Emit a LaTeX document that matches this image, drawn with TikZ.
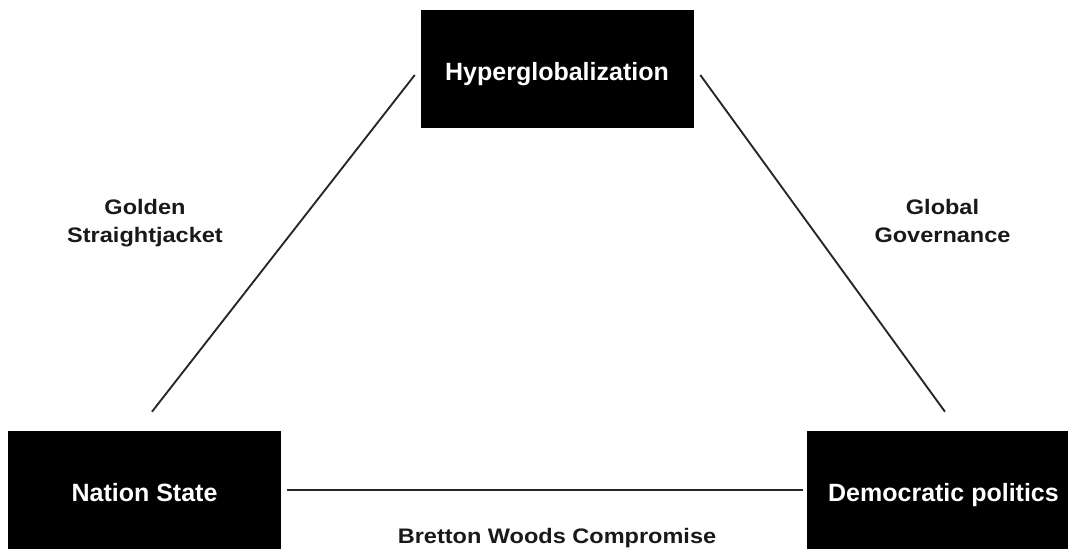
\documentclass[tikz,border=0pt]{standalone}
\usepackage{fontspec}
\setmainfont{Liberation Sans}
\newfontfamily\lblfont{Liberation Sans}[FakeStretch=1.12]
\begin{document}
\begin{tikzpicture}[x=0.75pt,y=-0.75pt,
  box/.style={fill=black, text=white, font=\fontsize{18.75}{22}\selectfont\bfseries,
    minimum width=204.75pt, minimum height=88.5pt, inner sep=0pt,
    text height=17.2pt, text depth=0pt},
  lbl/.style={font=\lblfont\fontsize{15.75}{21}\selectfont\bfseries, align=center,
    inner sep=0pt, text=black!90},
  conn/.style={draw=black!85, line width=1.4pt}]
\clip (0,0) rectangle (1068,549);
\node[box] (hg) at (557,69) {Hyperglobalization};
\node[box] (ns) at (144.5,490) {Nation State};
\node[box] (dp) at (943.5,490) {Democratic politics};
\draw[conn] ([xshift=5.6pt,yshift=14.25pt]ns.north) -- ([xshift=-4.1pt,yshift=-4.5pt]hg.west);
\draw[conn] ([xshift=1.1pt,yshift=14.25pt]dp.north) -- ([xshift=4.9pt,yshift=-4.5pt]hg.east);
\draw[conn] ([xshift=4.5pt]ns.east) -- ([xshift=-3pt]dp.west);
\node[lbl] (gs) at (145,223.4) {\strut Golden\\Straightjacket\strut};
\node[lbl] (gg) at (942.5,223.4) {\strut Global\\Governance\strut};
\node[lbl, anchor=base] (bw) at (557,543) {Bretton Woods Compromise};
\end{tikzpicture}
\end{document}
